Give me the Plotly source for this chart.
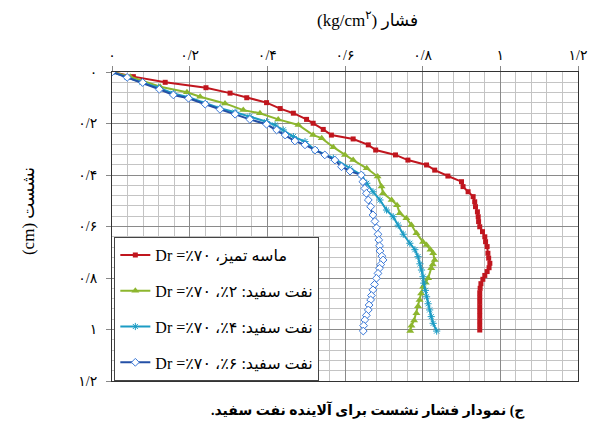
import plotly.graph_objects as go

# ---- data (pressure kg/cm2 vs settlement cm) ----
red_x = [0, 0.055, 0.137, 0.242, 0.304, 0.347, 0.398, 0.433, 0.467, 0.501, 0.518, 0.544, 0.565, 0.621, 0.660,
         0.679, 0.730, 0.762, 0.810, 0.831, 0.865, 0.900, 0.904, 0.917, 0.930, 0.934, 0.936, 0.941, 0.943, 0.944,
         0.947, 0.954, 0.960, 0.962, 0.966, 0.968, 0.970, 0.973, 0.971, 0.966, 0.960, 0.955, 0.950, 0.948, 0.947,
         0.947, 0.947, 0.947, 0.947, 0.947, 0.947, 0.947, 0.947]
red_y = [0, 0.018, 0.040, 0.061, 0.082, 0.100, 0.119, 0.142, 0.160, 0.184, 0.199, 0.223, 0.245, 0.260, 0.283,
         0.303, 0.322, 0.342, 0.361, 0.381, 0.404, 0.426, 0.445, 0.465, 0.484, 0.504, 0.523, 0.543, 0.562, 0.581,
         0.601, 0.620, 0.640, 0.659, 0.678, 0.704, 0.723, 0.743, 0.760, 0.775, 0.790, 0.805, 0.822, 0.840, 0.858,
         0.876, 0.894, 0.912, 0.930, 0.948, 0.966, 0.984, 1.002]

green_x = [0, 0.047, 0.124, 0.193, 0.227, 0.291, 0.338, 0.381, 0.428, 0.480, 0.518, 0.540, 0.570, 0.600, 0.621,
           0.656, 0.684, 0.694, 0.698, 0.720, 0.734, 0.741, 0.758, 0.771, 0.784, 0.801, 0.810, 0.820, 0.827, 0.831,
           0.826, 0.822, 0.814, 0.808, 0.801, 0.796, 0.792, 0.788, 0.784, 0.778, 0.771, 0.768]
green_y = [0, 0.018, 0.057, 0.079, 0.096, 0.122, 0.148, 0.160, 0.184, 0.206, 0.245, 0.257, 0.292, 0.322, 0.342,
           0.374, 0.406, 0.445, 0.471, 0.497, 0.517, 0.549, 0.568, 0.594, 0.626, 0.660, 0.672, 0.690, 0.704, 0.730,
           0.748, 0.762, 0.801, 0.818, 0.834, 0.860, 0.885, 0.910, 0.937, 0.965, 0.985, 1.006]

cyan_x = [0, 0.039, 0.077, 0.120, 0.158, 0.197, 0.240, 0.278, 0.317, 0.355, 0.398, 0.420, 0.441, 0.467, 0.497,
          0.523, 0.570, 0.612, 0.642, 0.656, 0.672, 0.690, 0.707, 0.724, 0.737, 0.750, 0.767, 0.780, 0.788, 0.793,
          0.797, 0.801, 0.803, 0.807, 0.810, 0.814, 0.818, 0.822, 0.827, 0.836]
cyan_y = [0, 0.021, 0.041, 0.061, 0.083, 0.098, 0.122, 0.141, 0.156, 0.173, 0.193, 0.206, 0.225, 0.251, 0.270,
          0.303, 0.335, 0.374, 0.400, 0.432, 0.465, 0.497, 0.536, 0.562, 0.595, 0.630, 0.665, 0.690, 0.717, 0.745,
          0.769, 0.795, 0.820, 0.848, 0.873, 0.900, 0.924, 0.950, 0.976, 1.006]

blue_x = [0, 0.039, 0.079, 0.122, 0.158, 0.197, 0.240, 0.278, 0.317, 0.355, 0.398, 0.424, 0.446, 0.471, 0.497,
          0.523, 0.548, 0.574, 0.591, 0.613, 0.642, 0.646, 0.651, 0.655, 0.660, 0.666, 0.672, 0.677, 0.681, 0.685,
          0.687, 0.689, 0.690, 0.695, 0.698, 0.692, 0.689, 0.685, 0.681, 0.676, 0.672, 0.668, 0.666, 0.662, 0.660,
          0.655, 0.651, 0.648, 0.647]
blue_y = [0, 0.021, 0.041, 0.067, 0.089, 0.102, 0.125, 0.145, 0.164, 0.184, 0.203, 0.225, 0.245, 0.268, 0.283,
          0.303, 0.322, 0.342, 0.368, 0.385, 0.400, 0.426, 0.452, 0.471, 0.497, 0.523, 0.555, 0.580, 0.605, 0.630,
          0.652, 0.675, 0.695, 0.715, 0.730, 0.748, 0.762, 0.782, 0.801, 0.825, 0.846, 0.868, 0.885, 0.905, 0.924,
          0.945, 0.963, 0.985, 1.006]

RLE, PDF = "\u202B", "\u202C"
series_names = [
    RLE + "ماسه تمیز، Dr =٪۷۰" + PDF,
    RLE + "نفت سفید: ۲٪، Dr =٪۷۰" + PDF,
    RLE + "نفت سفید: ۴٪، Dr =٪۷۰" + PDF,
    RLE + "نفت سفید: ۶٪، Dr =٪۷۰" + PDF,
]
tick_alias = {"0": "۰", "0.2": "۰/۲", "0.4": "۰/۴", "0.6": "۰/۶", "0.8": "۰/۸", "1": "۱", "1.2": "۱/۲"}
x_title = "(kg/cm<sup>۲</sup>) فشار"
y_title = "(cm) نشست"
caption = RLE + "ج) نمودار فشار نشست برای آلاینده نفت سفید." + PDF

FONT = "Liberation Serif, DejaVu Sans, serif"

fig = go.Figure()
fig.add_trace(go.Scatter(x=red_x, y=red_y, name=series_names[0], mode="lines+markers", legendgroup="a",
                         line=dict(color="#C0161E", width=2),
                         marker=dict(symbol="square", size=5, color="#C0161E")))
fig.add_trace(go.Scatter(x=green_x, y=green_y, name=series_names[1], mode="lines+markers", legendgroup="b",
                         line=dict(color="#8DB62E", width=2),
                         marker=dict(symbol="triangle-up", size=7, color="#8DB62E")))
fig.add_trace(go.Scatter(x=cyan_x, y=cyan_y, name=series_names[2], mode="lines+markers", legendgroup="c",
                         line=dict(color="#1C9CC4", width=2),
                         marker=dict(symbol="asterisk-open", size=6, line=dict(color="#6CC8E8", width=1))))
fig.add_trace(go.Scatter(x=blue_x, y=blue_y, name=series_names[3], mode="lines+markers", legendgroup="d",
                         line=dict(color="#2450A6", width=2),
                         marker=dict(symbol="diamond", size=6, color="white",
                                     line=dict(color="#3A78D8", width=1))))

fig.update_layout(
    width=600, height=425,
    margin=dict(l=112, r=22, t=72, b=44),
    paper_bgcolor="white", plot_bgcolor="white",
    font=dict(family=FONT, size=14, color="black"),
    showlegend=True,
    legend=dict(x=0.005, y=0.0, xanchor="left", yanchor="bottom",
                bgcolor="white", bordercolor="#444", borderwidth=1,
                font=dict(family=FONT, size=16),
                tracegroupgap=12, traceorder="grouped", itemwidth=30),
    xaxis=dict(side="top", range=[0, 1.2], tickmode="linear", tick0=0, dtick=0.2,
               labelalias=tick_alias, showgrid=True, gridcolor="#8a8a8a", gridwidth=1,
               minor=dict(tickmode="linear", tick0=0, dtick=0.04, showgrid=True, gridcolor="#c4c4c4", gridwidth=1),
               showline=True, linecolor="#333", linewidth=1, mirror=True,
               ticks="outside", ticklen=5, tickcolor="#888", zeroline=False,
               tickfont=dict(size=14)),
    yaxis=dict(range=[1.2, 0], tickmode="linear", tick0=0, dtick=0.2,
               labelalias=tick_alias, showgrid=True, gridcolor="#8a8a8a", gridwidth=1,
               minor=dict(tickmode="linear", tick0=0, dtick=0.04, showgrid=True, gridcolor="#c4c4c4", gridwidth=1),
               showline=True, linecolor="#333", linewidth=1, mirror=True,
               ticks="outside", ticklen=5, tickcolor="#888", zeroline=False,
               tickfont=dict(size=14), ticklabelstandoff=6),
    annotations=[
        dict(text=x_title, x=0.548, y=1.0, xref="paper", yref="paper", yshift=53, showarrow=False,
             font=dict(family=FONT, size=17), xanchor="center", yanchor="middle"),
        dict(text=y_title, x=0, y=0.55, xref="paper", yref="paper", xshift=-84, showarrow=False,
             textangle=-90, font=dict(family=FONT, size=17), xanchor="center", yanchor="middle"),
        dict(text="<b>" + caption + "</b>", x=0.55, y=0, xref="paper", yref="paper", yshift=-29,
             showarrow=False, font=dict(family=FONT, size=14), xanchor="center", yanchor="middle"),
    ],
)

fig.write_html("out.html")
